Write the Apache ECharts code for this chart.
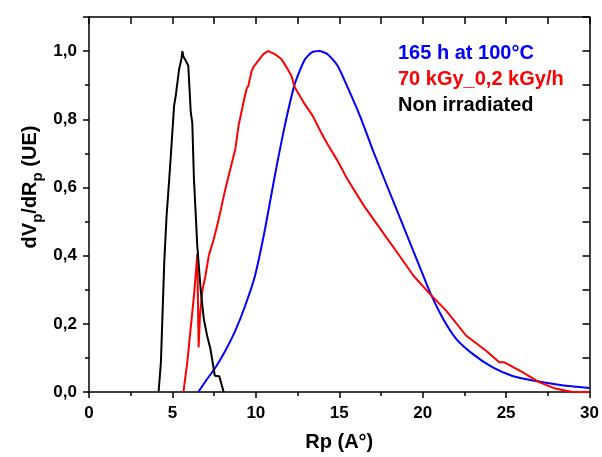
<!DOCTYPE html>
<html>
<head>
<meta charset="utf-8">
<script src="https://cdn.jsdelivr.net/npm/echarts@6/dist/echarts.min.js"></script>
<style>html,body{margin:0;padding:0;background:#fff}#c{width:602px;height:457px}</style>
</head>
<body>
<div id="c"></div>
<script>
// Series names
const seriesNames = ['165 h at 100°C', '70 kGy_0,2 kGy/h', 'Non irradiated'];
// Blue: 165 h at 100°C  [Rp, dVp/dRp]
const blueX = [6.55, 7.08, 7.58, 8.17, 8.77, 9.36, 9.95, 10.55, 11.14, 11.73, 12.33, 12.92, 13.35, 13.8, 14.3, 14.9, 15.49, 16.28, 17.07, 17.86, 18.85, 19.84, 20.44, 21.23, 22.02, 23.01, 24.2, 25.38, 26.77, 28.35, 30.0];
const blueY = [0.0, 0.038, 0.072, 0.121, 0.18, 0.253, 0.341, 0.478, 0.635, 0.78, 0.903, 0.974, 0.996, 1.0, 0.991, 0.957, 0.895, 0.805, 0.702, 0.605, 0.485, 0.365, 0.292, 0.214, 0.155, 0.111, 0.072, 0.047, 0.032, 0.02, 0.012];
// Red: 70 kGy_0,2 kGy/h
const redX = [5.66, 5.89, 6.09, 6.29, 6.39, 6.49, 6.57, 6.65, 6.78, 6.98, 7.18, 7.48, 7.77, 8.17, 8.37, 8.77, 8.96, 9.26, 9.45, 9.55, 9.75, 9.85, 10.15, 10.45, 10.74, 11.14, 11.53, 11.83, 12.13, 12.33, 12.92, 13.41, 13.91, 14.3, 14.9, 15.49, 16.48, 17.47, 18.46, 19.45, 20.44, 21.42, 22.61, 23.8, 24.59, 24.89, 25.98, 26.97, 27.96, 28.95, 30.0];
const redY = [0.0, 0.087, 0.185, 0.282, 0.341, 0.405, 0.131, 0.224, 0.294, 0.341, 0.4, 0.449, 0.506, 0.595, 0.634, 0.713, 0.78, 0.85, 0.89, 0.898, 0.942, 0.953, 0.972, 0.991, 1.0, 0.991, 0.977, 0.953, 0.928, 0.894, 0.845, 0.81, 0.761, 0.727, 0.678, 0.624, 0.546, 0.478, 0.41, 0.341, 0.287, 0.238, 0.165, 0.121, 0.087, 0.087, 0.058, 0.029, 0.01, 0.0, 0.0];
// Black: Non irradiated
const blackX = [4.17, 4.31, 4.41, 4.51, 4.65, 4.81, 4.97, 5.1, 5.2, 5.4, 5.54, 5.6, 5.65, 5.8, 5.95, 6.1, 6.19, 6.29, 6.39, 6.49, 6.69, 6.88, 7.08, 7.28, 7.54, 7.81, 8.07];
const blackY = [0.0, 0.087, 0.234, 0.38, 0.517, 0.625, 0.742, 0.84, 0.869, 0.947, 0.977, 1.0, 0.985, 0.972, 0.957, 0.82, 0.79, 0.625, 0.527, 0.429, 0.302, 0.214, 0.165, 0.126, 0.048, 0.046, 0.0];
// Axis ticks
const xTicks = [0, 5, 10, 15, 20, 25, 30];
const yTicks = [0.0, 0.2, 0.4, 0.6, 0.8, 1.0];

const zip = (xs, ys) => xs.map((x, i) => [x, ys[i]]);
const colors = ['#0000ff', '#ff0000', '#000000'];
const FF = 'Liberation Sans, Arial, sans-serif';
const lblFont = {fontFamily: FF, fontWeight: 'bold', fontSize: 17, color: '#000'};
const axisLine = {show: true, onZero: false, lineStyle: {color: '#000', width: 1.5}};

const chart = echarts.init(document.getElementById('c'), null, {renderer: 'canvas'});
chart.setOption({
  animation: false,
  backgroundColor: '#fff',
  grid: {left: 89, right: 9, top: 17, bottom: 64, containLabel: false},
  legend: {
    orient: 'vertical', left: 388, top: 38, itemGap: 6, itemWidth: 0, itemHeight: 0,
    icon: 'rect', selectedMode: false,
    textStyle: {fontFamily: FF, fontWeight: 'bold', fontSize: 20},
    data: seriesNames.map((n, i) => ({name: n, textStyle: {color: colors[i]}}))
  },
  xAxis: [{
    type: 'value', min: xTicks[0], max: xTicks[xTicks.length - 1], interval: 5,
    name: 'Rp (A°)', nameLocation: 'middle', nameGap: 40,
    nameTextStyle: {fontFamily: FF, fontWeight: 'bold', fontSize: 20, color: '#000'},
    axisLine: axisLine,
    axisTick: {show: true, length: 6, lineStyle: {color: '#000', width: 1.5}},
    minorTick: {show: true, splitNumber: 2, length: 4, lineStyle: {color: '#000', width: 1.5}},
    axisLabel: Object.assign({margin: 13}, lblFont),
    splitLine: {show: false}
  }, {
    type: 'value', position: 'top', min: 0, max: 30, interval: 2.5,
    axisLine: axisLine,
    axisTick: {show: true, inside: true, length: 7, lineStyle: {color: '#000', width: 1.5}},
    axisLabel: {show: false}, splitLine: {show: false}
  }],
  yAxis: [{
    type: 'value', min: 0, max: 1.1, interval: 0.2,
    axisLine: axisLine,
    axisTick: {show: true, length: 6, lineStyle: {color: '#000', width: 1.5}},
    minorTick: {show: true, splitNumber: 2, length: 4, lineStyle: {color: '#000', width: 1.5}},
    axisLabel: Object.assign({margin: 12, showMaxLabel: false,
      formatter: v => (yTicks.some(t => Math.abs(t - v) < 1e-6) ? v.toFixed(1).replace('.', ',') : '')}, lblFont),
    splitLine: {show: false}
  }, {
    type: 'value', position: 'right', min: 0, max: 1.1, interval: 0.1,
    axisLine: axisLine,
    axisTick: {show: true, inside: true, length: 7, lineStyle: {color: '#000', width: 1.5}},
    axisLabel: {show: false}, splitLine: {show: false}
  }],
  graphic: [{
    type: 'text', x: 30, y: 187, rotation: Math.PI / 2,
    style: {
      text: '{m|dV}{s|p}{m|/dR}{s|p}{m| (UE)}',
      align: 'center', verticalAlign: 'middle',
      rich: {
        m: {fontFamily: FF, fontWeight: 'bold', fontSize: 20, lineHeight: 30, verticalAlign: 'middle', fill: '#000'},
        s: {fontFamily: FF, fontWeight: 'bold', fontSize: 15, lineHeight: 15, verticalAlign: 'bottom', fill: '#000'}
      }
    }
  }],
  series: [
    {name: seriesNames[0], type: 'line', data: zip(blueX, blueY), smooth: 0.2, showSymbol: false, lineStyle: {color: colors[0], width: 2}, itemStyle: {color: colors[0]}},
    {name: seriesNames[1], type: 'line', data: zip(redX, redY), smooth: false, showSymbol: false, lineStyle: {color: colors[1], width: 2}, itemStyle: {color: colors[1]}},
    {name: seriesNames[2], type: 'line', data: zip(blackX, blackY), smooth: false, showSymbol: false, lineStyle: {color: colors[2], width: 2}, itemStyle: {color: colors[2]}}
  ]
});
</script>
</body>
</html>
